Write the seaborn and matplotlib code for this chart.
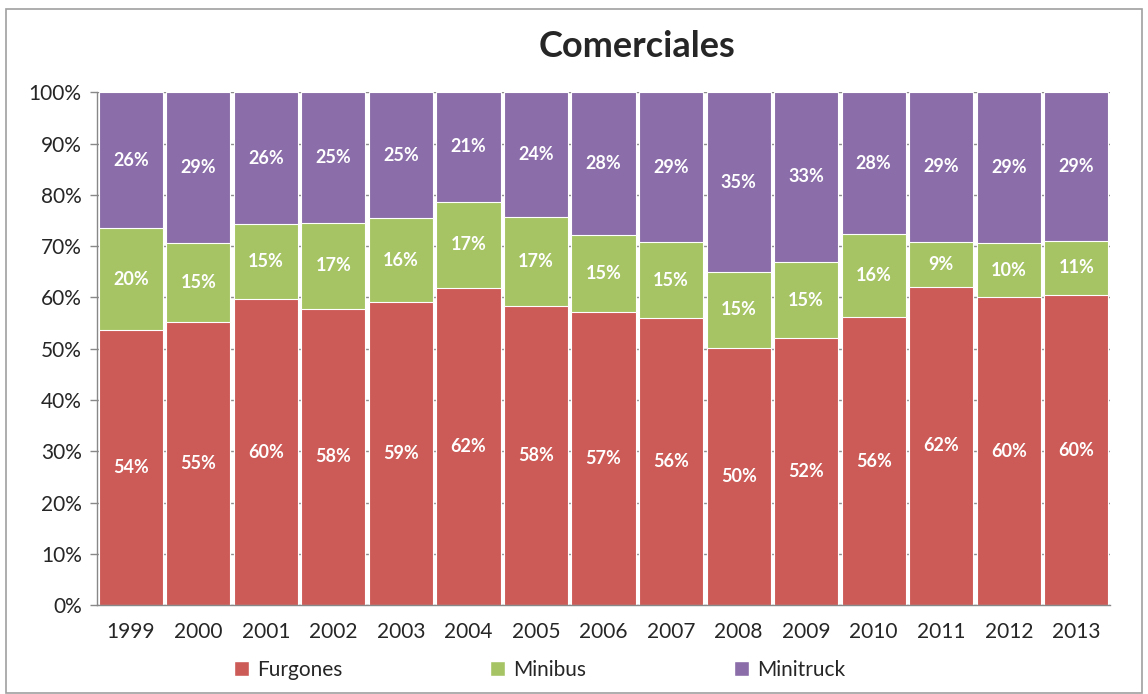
import matplotlib
matplotlib.use("Agg")
import matplotlib.pyplot as plt
from matplotlib.patches import Rectangle, Patch
import seaborn as sns
import pandas as pd

# data (share of each type, %)
years = ["1999", "2000", "2001", "2002", "2003", "2004", "2005", "2006",
         "2007", "2008", "2009", "2010", "2011", "2012", "2013"]
furgones = [53.6, 55.2, 59.7, 57.8, 59.2, 61.9, 58.4, 57.2, 56.0, 50.2, 52.0, 56.2, 62.1, 60.1, 60.5]
minibus = [19.9, 15.4, 14.6, 16.8, 16.2, 16.8, 17.2, 15.0, 14.8, 14.8, 15.0, 16.2, 8.8, 10.5, 10.6]
minitruck = [26.5, 29.4, 25.7, 25.4, 24.6, 21.3, 24.4, 27.8, 29.2, 35.0, 33.0, 27.6, 29.1, 29.4, 28.9]

series = ["Furgones", "Minibus", "Minitruck"]
colors = ["#CC5A56", "#A6C464", "#8A6DA9"]

df = pd.DataFrame({"year": years, "Furgones": furgones,
                   "Minibus": minibus, "Minitruck": minitruck})
df["c1"] = df["Furgones"]
df["c2"] = df["Furgones"] + df["Minibus"]
df["c3"] = df["c2"] + df["Minitruck"]

sns.set_style("white")
plt.rcParams["font.family"] = ["Lato", "DejaVu Sans"]

fig = plt.figure(figsize=(11.48, 6.94), dpi=100)
ax = fig.add_axes([0.0845, 0.128, 0.8825, 0.739])

# stacked bars: draw cumulative totals from the top down
for col, c in zip(["c3", "c2", "c1"], colors[::-1]):
    sns.barplot(data=df, x="year", y=col, color=c, saturation=1, width=0.95,
                edgecolor="white", linewidth=0.8, ax=ax, zorder=2)

# value labels
bottoms = [0] * len(years)
for vals in [furgones, minibus, minitruck]:
    for i, v in enumerate(vals):
        ax.text(i, bottoms[i] + v / 2, f"{round(v):.0f}%", ha="center", va="center",
                color="white", fontsize=13, fontweight="bold", zorder=3)
        bottoms[i] += v

ax.set_ylim(0, 100)
ax.set_xlim(-0.5, len(years) - 0.5)
ax.set_yticks(range(0, 101, 10))
ax.set_yticklabels([f"{t}%" for t in range(0, 101, 10)], fontsize=15)
ax.set_xticks(range(len(years)))
ax.set_xticklabels(years, fontsize=15)
ax.set_xticks([i - 0.5 for i in range(len(years) + 1)], minor=True)
ax.tick_params(axis="x", which="major", length=0, pad=12)
ax.tick_params(axis="x", which="minor", length=5, color="#888888", width=1)
ax.tick_params(axis="y", length=5, color="#888888", width=1, direction="out", left=True, pad=6)
ax.set_xlabel("")
ax.set_ylabel("")
ax.yaxis.grid(True, color="#8C8C8C", linewidth=1)
ax.set_axisbelow(True)
for s in ["top", "right"]:
    ax.spines[s].set_visible(False)
for s in ["left", "bottom"]:
    ax.spines[s].set_color("#888888")
    ax.spines[s].set_linewidth(1)

fig.text(0.555, 0.933, "Comerciales", ha="center", va="center",
         fontsize=26, fontweight="bold")

handles = [Patch(facecolor=c, label=s) for s, c in zip(series, colors)]
fig.legend(handles=handles, loc="center", bbox_to_anchor=(0.47, 0.035), ncol=3,
           frameon=False, fontsize=15, handlelength=0.7, handleheight=0.7,
           handletextpad=0.4, columnspacing=7.1)

fig.patches.append(Rectangle((0.005, 0.002), 0.99, 0.985, transform=fig.transFigure,
                             fill=False, edgecolor="#A0A0A0", linewidth=1.2))

fig.savefig("out.png", dpi=100)
